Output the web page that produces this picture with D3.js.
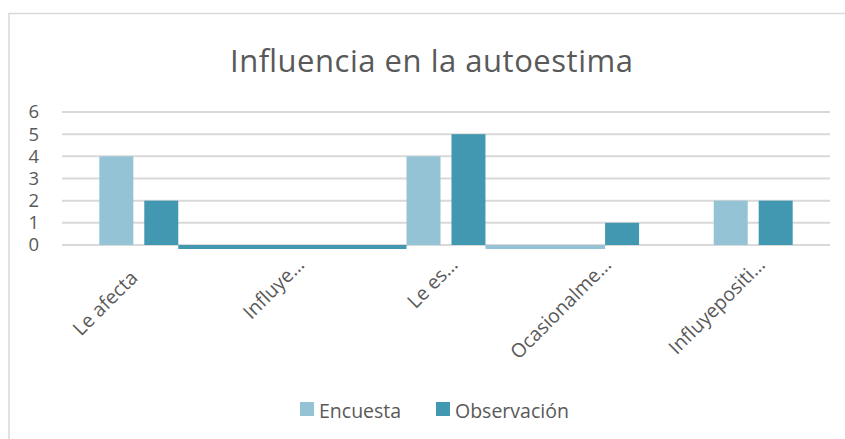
<!DOCTYPE html>
<html>
<head>
<meta charset="utf-8">
<script src="https://cdn.jsdelivr.net/npm/d3@7"></script>
<style>
  html, body { margin: 0; padding: 0; background: #fff; }
  svg { display: block; }
  text { font-family: "Open Sans", "Noto Sans", sans-serif; fill: #595959; }
</style>
</head>
<body>
<svg id="chart" width="845" height="439"></svg>
<script>
// ---- data ----
const categories = ["Le afecta", "Influye…", "Le es…", "Ocasionalme…", "Influyepositi…"];
const seriesNames = ["Encuesta", "Observación"];
const encuesta = [4, 0, 4, 0, 2];
const observacion = [2, 0, 5, 1, 2];
const yTicks = [0, 1, 2, 3, 4, 5, 6];
const seriesColors = ["#93c3d5", "#4298b0"];
// zero-height strips visible at the baseline (series index, from category, to category)
const baselineStrips = [
  { s: 1, from: 0, to: 2 },
  { s: 0, from: 2, to: 3 }
];

const svg = d3.select("#chart");
const W = 845, H = 439;

// chart border
svg.append("path")
  .attr("d", `M9,${H + 5} V13.5 H${W + 5}`)
  .attr("fill", "none").attr("stroke", "#d9d9d9").attr("stroke-width", 1.5);

// title
svg.append("text")
  .attr("x", 230).attr("y", 72)
  .attr("textLength", 403).attr("lengthAdjust", "spacing")
  .style("font-size", "31px")
  .text("Influencia en la autoestima");

const x0 = d3.scaleBand().domain(d3.range(categories.length)).range([62, 830])
  .paddingInner(0.486).paddingOuter(0.243);
const x1 = d3.scaleBand().domain(d3.range(seriesNames.length)).range([0, x0.bandwidth()])
  .paddingInner(0.244);
const y = d3.scaleLinear().domain([0, 6]).range([245, 112]);

// gridlines
svg.append("g").selectAll("line").data(yTicks).join("line")
  .attr("x1", 62).attr("x2", 830)
  .attr("y1", d => y(d)).attr("y2", d => y(d))
  .attr("stroke", "#d9d9d9").attr("stroke-width", 2);

// y axis labels
const yAxis = d3.axisLeft(y).tickValues(yTicks).tickSize(0).tickPadding(0).tickFormat(d3.format("d"));
const gy = svg.append("g").attr("transform", "translate(39,0)").call(yAxis);
gy.select(".domain").remove();
gy.selectAll("text").style("font-size", "18.5px").attr("fill", "#595959")
  .style("font-family", '"Open Sans", sans-serif');

// bars
const series = [encuesta, observacion];
series.forEach((vals, s) => {
  svg.append("g").selectAll("rect").data(vals).join("rect")
    .attr("x", (d, i) => x0(i) + x1(s))
    .attr("y", d => y(d))
    .attr("width", x1.bandwidth())
    .attr("height", d => y(0) - y(d))
    .attr("fill", seriesColors[s]);
});

// baseline strips
svg.append("g").selectAll("rect").data(baselineStrips).join("rect")
  .attr("x", d => x0(d.from) + x1(1) + x1.bandwidth())
  .attr("width", d => (x0(d.to) + x1(d.s === 1 ? 0 : 1)) - (x0(d.from) + x1(1) + x1.bandwidth()))
  .attr("y", y(0))
  .attr("height", 4)
  .attr("fill", d => seriesColors[d.s]);

// category labels (rotated -45; full-length labels sit slightly lower along their direction)
svg.append("g").selectAll("text").data(categories).join("text")
  .attr("transform", (d, i) => {
    const shift = d.endsWith("…") ? 0 : 13;
    return `translate(${x0(i) + x0.bandwidth() / 2 + 13 - shift},${266 + shift}) rotate(-45)`;
  })
  .attr("text-anchor", "end")
  .style("font-size", "19.5px")
  .text(d => d);

// legend
const legend = svg.append("g");
const legendX = [300, 436];
seriesNames.forEach((name, s) => {
  legend.append("rect").attr("x", legendX[s]).attr("y", 402).attr("width", 14).attr("height", 14)
    .attr("fill", seriesColors[s]);
  legend.append("text").attr("x", legendX[s] + 19).attr("y", 418)
    .style("font-size", "19.5px").text(name);
});
</script>
</body>
</html>
